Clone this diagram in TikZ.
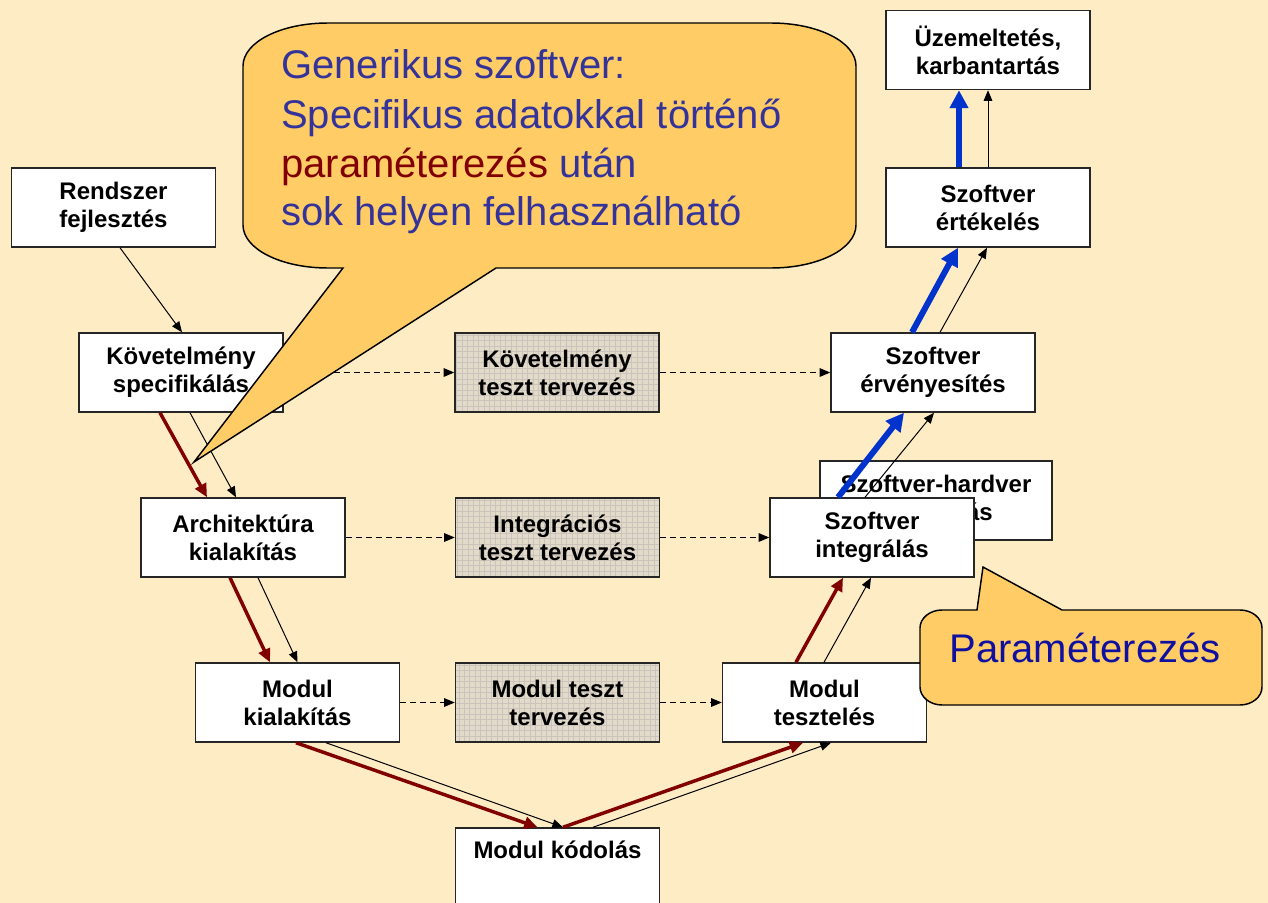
\documentclass[tikz,border=0pt]{standalone}
\usepackage{fontspec}
\setmainfont{Liberation Sans}
\usetikzlibrary{arrows.meta,calc}
\definecolor{bg}{RGB}{254,236,197}
\definecolor{callfill}{RGB}{255,204,102}
\definecolor{calltext}{RGB}{51,51,153}
\definecolor{paramred}{RGB}{128,0,0}
\definecolor{paramblue}{RGB}{16,16,160}
\definecolor{darkred}{RGB}{128,0,0}
\definecolor{arrblue}{RGB}{0,51,204}
\definecolor{shade}{RGB}{226,219,202}
\definecolor{gridc}{RGB}{204,196,188}
\begin{document}
\begin{tikzpicture}[x=0.75pt,y=-0.75pt,
  box/.style={draw=black!85, line width=1.1pt, fill=white, minimum width=153pt,
    minimum height=59.25pt, inner sep=0pt, align=center,
    font=\fontsize{18}{21}\selectfont\bfseries},
  shadebox/.style={box, fill=shade, path picture={
    \draw[gridc, line width=0.3pt, step=4.1pt]
      (path picture bounding box.south west) grid (path picture bounding box.north east);}},
  boxtext/.style={inner sep=0pt, font=\fontsize{18}{21}\selectfont\bfseries},
  thinarrow/.style={line width=0.75pt, -{Triangle[length=8pt,width=6.5pt]}},
  dasharrow/.style={thinarrow, dash pattern=on 4.5pt off 3pt},
  redarrow/.style={draw=darkred, line width=2.6pt, -{Triangle[length=10pt,width=9pt]}},
  bluearrow/.style={draw=arrblue, line width=4.5pt, -{Triangle[length=13.5pt,width=13.5pt]}},
  calloutshape/.style={fill=callfill, draw=black, line width=1.1pt, line join=miter},
  calltxt/.style={anchor=base west, inner sep=0pt, font=\fontsize{30}{36}\selectfont, text=calltext}
]
\fill[bg] (0,0) rectangle (1268,903);
\useasboundingbox (0,0) rectangle (1268,903);

% boxes
\node[box] (rf) at (113.5,207.5) {Rendszer\\fejlesztés};
\node[box] (ks) at (181,372.5) {Követelmény\\specifikálás};
\node[shadebox] (kt) at (557,372.5) {Követelmény\\teszt tervezés};
\node[box] (se) at (933,372.5) {Szoftver\\érvényesítés};
\node[box, minimum width=174pt] (sh) at (936,500.5) {Szoftver-hardver\\integrálás};
\node[box] (ak) at (243,537.5) {Architektúra\\kialakítás};
\node[shadebox] (it) at (557.5,537.5) {Integrációs\\teszt tervezés};
\node[box] (si) at (872,537.5) {Szoftver\\integrálás};
\node[box] (mk) at (297.5,702.5) {Modul\\kialakítás};
\node[shadebox] (mt) at (557.5,702.5) {Modul teszt\\tervezés};
\node[box] (mte) at (824.5,702.5) {Modul\\tesztelés};
\node[box, minimum height=61.5pt] (mko) at (557.5,869) {};
\node[boxtext] (mkot) at (557.5,850) {Modul kódolás};
\node[box] (uk) at (988,50) {Üzemeltetés,\\karbantartás};
\node[box] (sv) at (988,207.5) {Szoftver\\értékelés};

% dashed arrows
\draw[dasharrow] (ks.east) -- (kt.west);
\draw[dasharrow] (kt.east) -- (se.west);
\draw[dasharrow] (ak.east) -- (it.west);
\draw[dasharrow] (it.east) -- (si.west);
\draw[dasharrow] (mk.east) -- (mt.west);
\draw[dasharrow] (mt.east) -- (mte.west);

% black thin arrows
\draw[thinarrow] ($(rf.south)+(6.5,0)$) -- ($(ks.north)+(1,0)$);
\draw[thinarrow] ($(ks.south)+(9,0)$) -- ($(ak.north)+(-7,0)$);
\draw[thinarrow] ($(ak.south)+(15,0)$) -- ($(mk.north)+(0,0)$);
\draw[thinarrow] ($(mk.south)+(28.5,0)$) -- ($(mko.north)+(5.5,0)$);
\draw[thinarrow] ($(mko.north)+(35.5,0)$) -- ($(mte.south)+(6.5,0)$);
\draw[thinarrow] ($(mte.north)+(-0.5,0)$) -- ($(si.south)+(-1,0)$);
\draw[thinarrow] ($(si.north)+(-7,0)$) -- ($(se.south)+(1,0)$);
\draw[thinarrow] ($(se.north)+(7,0)$) -- ($(sv.south)+(-1,0)$);
\draw[thinarrow] (sv.north) -- (uk.south);

% red arrows
\draw[redarrow] ($(ks.south)+(-21,0)$) -- ($(ak.north)+(-36,0)$);
\draw[redarrow] ($(ak.south)+(-13,0)$) -- ($(mk.north)+(-27.5,0)$);
\draw[redarrow] ($(mk.south)+(-1.5,0)$) -- ($(mko.north)+(-20,0)$);
\draw[redarrow] ($(mko.north)+(5.5,0)$) -- ($(mte.south)+(-21.5,0)$);
\draw[redarrow] ($(mte.north)+(-28.5,0)$) -- ($(si.south)+(-29,0)$);

% blue arrows
\draw[bluearrow] ($(si.north)+(-34,0)$) -- ($(se.south)+(-29,0)$);
\draw[bluearrow] ($(se.north)+(-21,0)$) -- ($(sv.south)+(-30,0)$);
\draw[bluearrow] ($(sv.north)+(-29,0)$) -- ($(uk.south)+(-29,0)$);

% callout 1
\coordinate (c1tip) at (194,462);
\draw[calloutshape] (343,268) -- (c1tip) -- (496,268) -- (771,268)
  .. controls (818,268) and (856,249) .. (856,225) -- (856,66)
  .. controls (856,42) and (818,23) .. (771,23) -- (328,23)
  .. controls (281,23) and (243,42) .. (243,66) -- (243,225)
  .. controls (243,249) and (281,268) .. (328,268) -- cycle;
\node[calltxt] (c1a) at (281,78) {Generikus szoftver:};
\node[calltxt] (c1b) at (281,128) {Specifikus adatokkal történő};
\node[calltxt] (c1c) at (281,177) {\textcolor{paramred}{paraméterezés} után};
\node[calltxt] (c1d) at (281,225) {sok helyen felhasználható};

% callout 2
\coordinate (c2tip) at (983,567);
\draw[calloutshape] (977,610) -- (c2tip) -- (1062,610) -- (1240,610)
  .. controls (1252,610) and (1262,618) .. (1262,628) -- (1262,687)
  .. controls (1262,697) and (1252,705) .. (1240,705) -- (942,705)
  .. controls (930,705) and (920,697) .. (920,687) -- (920,628)
  .. controls (920,618) and (930,610) .. (942,610) -- cycle;
\node[anchor=base, inner sep=0pt, font=\fontsize{30}{36}\selectfont, text=paramblue] (c2t) at (1085,662) {Paraméterezés};
\end{tikzpicture}
\end{document}
